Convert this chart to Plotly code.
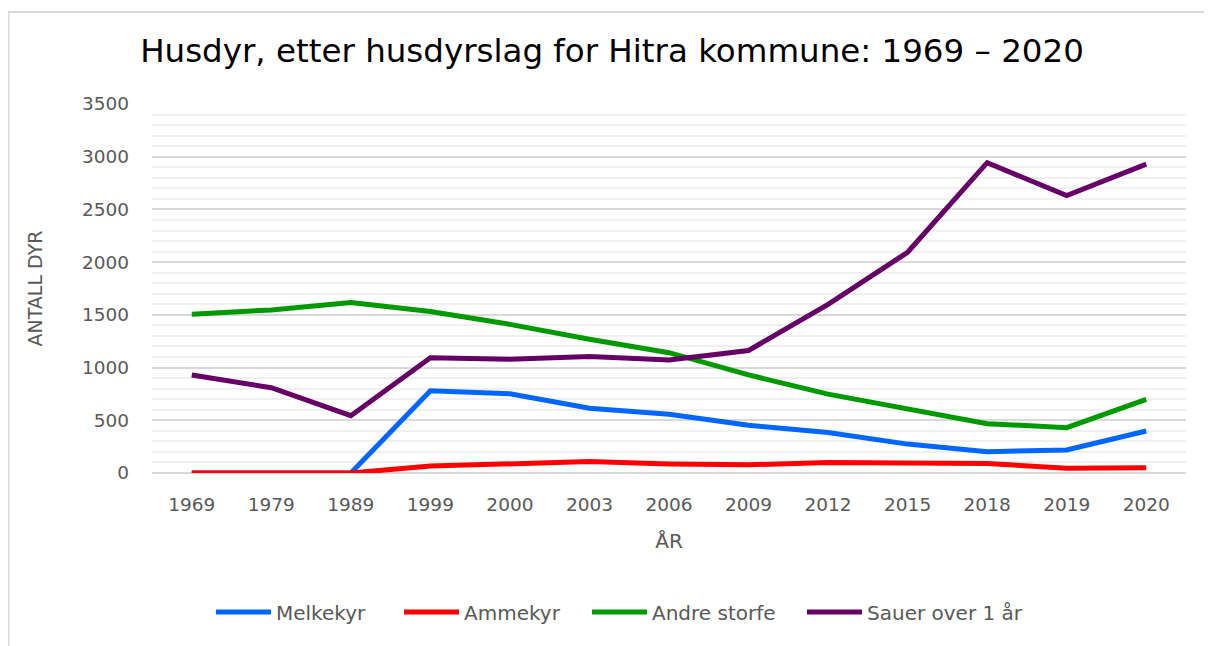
import plotly.graph_objects as go

years = ["1969", "1979", "1989", "1999", "2000", "2003", "2006", "2009", "2012", "2015", "2018", "2019", "2020"]
melkekyr = [0, 0, 0, 780, 752, 614, 558, 452, 384, 274, 202, 218, 398]
ammekyr = [0, 0, 0, 66, 90, 108, 86, 78, 100, 92, 90, 45, 50]
andre_storfe = [1506, 1547, 1616, 1532, 1410, 1268, 1141, 930, 748, 604, 468, 430, 699]
sauer = [930, 809, 544, 1094, 1079, 1104, 1072, 1162, 1600, 2094, 2944, 2631, 2929]

series = [
    ("Melkekyr", melkekyr, "#0066ff"),
    ("Ammekyr", ammekyr, "#ff0000"),
    ("Andre storfe", andre_storfe, "#009900"),
    ("Sauer over 1 år", sauer, "#660066"),
]

# page body has an 8px margin; figure placed at screen (8, 8)
OFF = 8
W, H = 1204, 638
# plot area in screen pixels: left 152, right 1186, top 104, bottom 473
ml, mr, mt, mb = 152 - OFF, (OFF + W) - 1186, 104 - OFF, (OFF + H) - 473
pw, ph = W - ml - mr, H - mt - mb

def sx(px):
    return (px - OFF - ml) / pw

def sy(py):
    return (OFF + H - mb - py) / ph

# legend entry line start positions (screen px) in reference
legend_starts = [217, 405, 593, 808]
legend_ids = ["legend", "legend2", "legend3", "legend4"]

fig = go.Figure()
for (name, vals, col), lid in zip(series, legend_ids):
    fig.add_trace(go.Scatter(x=years, y=vals, name=name, mode="lines",
                             line=dict(color=col, width=5), legend=lid))

legend_common = dict(orientation="h", xanchor="left", y=sy(612), yanchor="middle",
                     font=dict(size=20, color="#595959"), itemwidth=55,
                     bgcolor="rgba(0,0,0,0)")
legend_layouts = {}
for lid, xs in zip(legend_ids, legend_starts):
    legend_layouts[lid] = dict(legend_common, x=sx(xs - 6))

fig.update_layout(
    width=W, height=H,
    margin=dict(l=ml, r=mr, t=mt, b=mb),
    paper_bgcolor="white", plot_bgcolor="white",
    font=dict(family="DejaVu Sans", color="#595959", size=18),
    title=dict(text="Husdyr, etter husdyrslag for Hitra kommune: 1969 – 2020",
               x=(612 - OFF) / W, xanchor="center", y=1 - (51 - OFF) / H, yanchor="middle",
               font=dict(size=32.5, color="black", family="DejaVu Sans")),
    xaxis=dict(type="category", range=[-0.5, len(years) - 0.5],
               showgrid=False, showline=False, ticks="", ticklabelstandoff=18,
               title=dict(text="ÅR", font=dict(size=20, color="#595959"), standoff=20),
               tickfont=dict(size=18.5, color="#595959")),
    yaxis=dict(range=[0, 3500], dtick=500, showgrid=True, gridcolor="#d9d9d9",
               gridwidth=1.5, zeroline=True, zerolinecolor="#d9d9d9", zerolinewidth=1.5,
               showline=False, ticks="", ticklabelstandoff=22,
               minor=dict(dtick=100, showgrid=True, gridcolor="#f0f0f0", gridwidth=1.5),
               title=dict(text="ANTALL DYR", font=dict(size=19, color="#595959"), standoff=34),
               tickfont=dict(size=18.5, color="#595959")),
    showlegend=True,
    **legend_layouts,
)

# outer chart frame (top and left edges visible)
fig.add_shape(type="rect", xref="paper", yref="paper",
              x0=sx(8.5), x1=sx(1230),
              y0=sy(660), y1=sy(12),
              line=dict(color="#d9d9d9", width=2), layer="below")

fig.write_html("out.html")
